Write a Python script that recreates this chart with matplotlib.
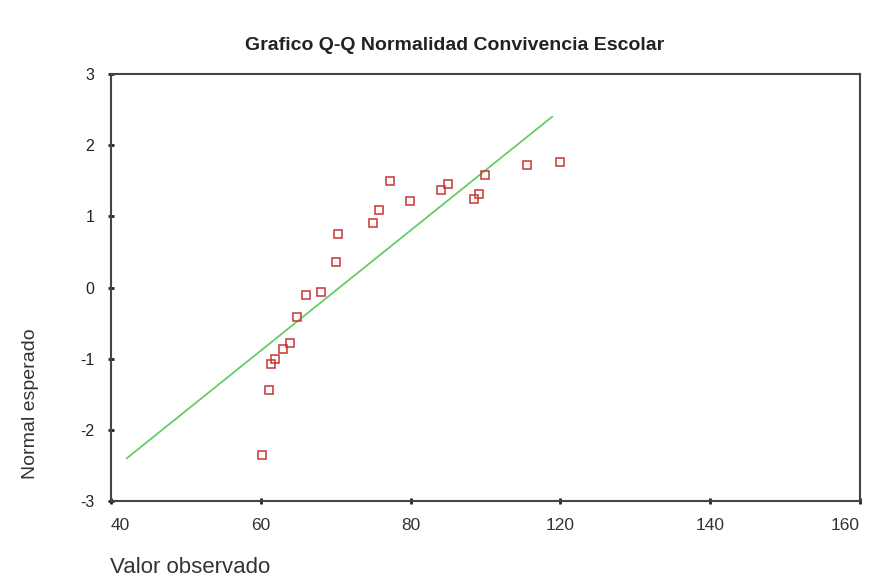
import matplotlib
matplotlib.use("Agg")
import matplotlib.pyplot as plt
import numpy as np

plt.rcParams['font.family'] = ['Liberation Sans', 'DejaVu Sans']
plt.rcParams['axes.unicode_minus'] = False

observado = [60.1, 61.1, 61.3, 61.9, 63.0, 63.9, 64.9, 66.0, 68.0, 70.0, 70.3,
             75.0, 75.8, 77.2, 79.9, 84.0, 85.0, 88.4, 89.1, 90.0, 95.6, 99.9]
esperado = [-2.35, -1.44, -1.07, -1.00, -0.87, -0.78, -0.42, -0.10, -0.06, 0.36, 0.75,
            0.91, 1.09, 1.50, 1.22, 1.37, 1.46, 1.24, 1.31, 1.58, 1.72, 1.76]

# recta de referencia normal
media = 70.5
desv = 11.83
z_lim = 2.4

x_ticks = [40, 60, 80, 100, 120, 140]
x_tick_labels = ['40', '60', '80', '120', '140', '160']
y_ticks = [-3, -2, -1, 0, 1, 2, 3]

fig = plt.figure(figsize=(8.71, 5.88), dpi=100)
ax = fig.add_axes([0.1274, 0.148, 0.86, 0.726])

xl = np.array([media - z_lim * desv, media + z_lim * desv])
ax.plot(xl, (xl - media) / desv, color='#66cc66', lw=1.3)
ax.plot(observado, esperado, ls='none', marker='s', ms=6, mfc='none',
        mec='#cc3333', mew=1.1)

ax.set_xlim(40, 140)
ax.set_ylim(-3, 3)
ax.set_xticks(x_ticks)
ax.set_xticklabels(x_tick_labels)
ax.set_yticks(y_ticks)
ax.tick_params(axis='both', direction='inout', length=4, width=2, color='#222222')
ax.tick_params(axis='x', labelsize=12.5, pad=10, labelcolor='#333333')
ax.tick_params(axis='y', labelsize=11.5, pad=10, labelcolor='#222222')
xlabs = ax.get_xticklabels()
xlabs[0].set_horizontalalignment('left')
xlabs[0].set_x(40)
xlabs[-1].set_horizontalalignment('right')
for s in ax.spines.values():
    s.set_color('#444444')
    s.set_linewidth(1.5)

fig.text(0.522, 0.923, 'Grafico Q-Q Normalidad Convivencia Escolar',
         ha='center', va='center', fontsize=14, fontweight='bold', color='#222222')
fig.text(0.035, 0.313, 'Normal esperado', rotation=90, ha='center', va='center',
         fontsize=14, color='#333333')
fig.text(0.126, 0.035, 'Valor observado', ha='left', va='center', fontsize=16,
         color='#333333')

fig.savefig('out.png', dpi=100, facecolor='white')
